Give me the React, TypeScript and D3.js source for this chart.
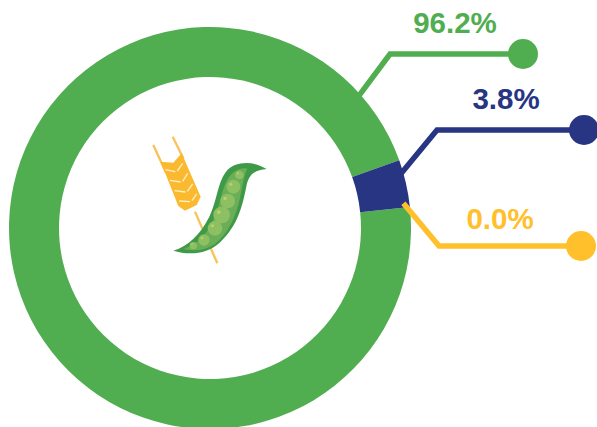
import React from "react";
import * as d3 from "d3";

const categories = ["Green", "Blue", "Yellow"];
const values = [96.2, 3.8, 0.0];
const labels = ["96.2%", "3.8%", "0.0%"];
const colors = ["#50AE50", "#283583", "#FFC02B"];
const leaderStartAngles = [48.4, 74, 82.7];
const leaderRadii = [199, 199, 195];
const leaderElbows: [number, number][] = [[390, 54], [437, 130], [439, 246]];
const leaderEnds = [523, 584, 581];
const labelPos: [number, number][] = [[455, 33], [506, 109], [500, 229]];

const peaCircles: [number, number, number][] = [
  [190, 377, 11], [222, 360, 17], [255, 325, 22], [275, 285, 25], [293, 243, 22], [310, 200, 21], [328, 165, 13],
];
const chevrons = [
  "M106,149L136,155M142,153L158,130",
  "M120,181L152,186M158,184L173,160",
  "M134,212L166,216M172,214L188,192",
  "M148,243L180,245M186,242L200,222",
];

const W = 597, H = 427;
const cx = 210, cy = 228, R = 201, r = 151;

export default function App() {
  const start = (83.98 * Math.PI) / 180;
  const pie = d3.pie<number>().sort(null).startAngle(start).endAngle(start + 2 * Math.PI);
  const arcs = pie(values);
  const arc = d3.arc<d3.PieArcDatum<number>>().innerRadius(r).outerRadius(R);
  const polar = (deg: number, rad: number): [number, number] => {
    const a = (deg * Math.PI) / 180;
    return [cx + rad * Math.sin(a), cy - rad * Math.cos(a)];
  };
  const line = d3.line();
  return (
    <svg width={W} height={H} viewBox={`0 0 ${W} ${H}`} style={{ position: "absolute", left: 0, top: 0 }}>
      <g transform={`translate(${cx},${cy})`}>
        {arcs.map((d, i) => (
          <path key={categories[i]} d={arc(d) ?? ""} fill={colors[i]} />
        ))}
      </g>
      {categories.map((c, i) => {
        const [ex, ey] = leaderElbows[i];
        return (
          <g key={c}>
            <path
              d={line([polar(leaderStartAngles[i], leaderRadii[i]), [ex, ey], [leaderEnds[i], ey]]) ?? ""}
              fill="none"
              stroke={colors[i]}
              strokeWidth={5.5}
              strokeLinejoin="miter"
            />
            <circle cx={leaderEnds[i]} cy={ey} r={15} fill={colors[i]} />
            <text
              x={labelPos[i][0]}
              y={labelPos[i][1]}
              textAnchor="middle"
              fontFamily="'Liberation Sans', Arial, sans-serif"
              fontWeight="bold"
              fontSize={29.5}
              fill={colors[i]}
            >
              {labels[i]}
            </text>
          </g>
        );
      })}
      <g transform="translate(130,120) scale(0.3333)">
        <path d="M70,75L108,158M128,50L160,115M195,275L262,430" stroke="#F9C25A" strokeWidth={7} fill="none" />
        <path d="M92,125L130,128L155,100L212,230L200,255L165,272L145,258Z" fill="#FBB92F" />
        {chevrons.map((d) => (
          <path key={d} d={d} stroke="#FFEFC4" strokeWidth={4} fill="none" />
        ))}
        <path
          d="M130,392C175,378 210,345 238,290C262,240 262,190 288,155C315,122 370,122 410,147C378,150 358,160 350,195C338,255 325,315 272,365C230,405 175,405 130,392Z"
          fill="#3F9A48"
        />
        <path
          d="M160,387C205,372 232,342 252,295C275,245 275,195 302,165C318,148 335,142 352,146C342,165 338,195 330,235C316,295 295,340 255,372C225,392 195,394 160,387Z"
          fill="#6AAE58"
        />
        {peaCircles.map(([x, y, rr]) => (
          <circle key={x} cx={x} cy={y} r={rr} fill="#8DC063" />
        ))}
        {peaCircles.map(([x, y, rr]) => (
          <circle key={`h${x}`} cx={x - rr * 0.35} cy={y - rr * 0.35} r={rr * 0.22} fill="#BFD068" />
        ))}
      </g>
    </svg>
  );
}
